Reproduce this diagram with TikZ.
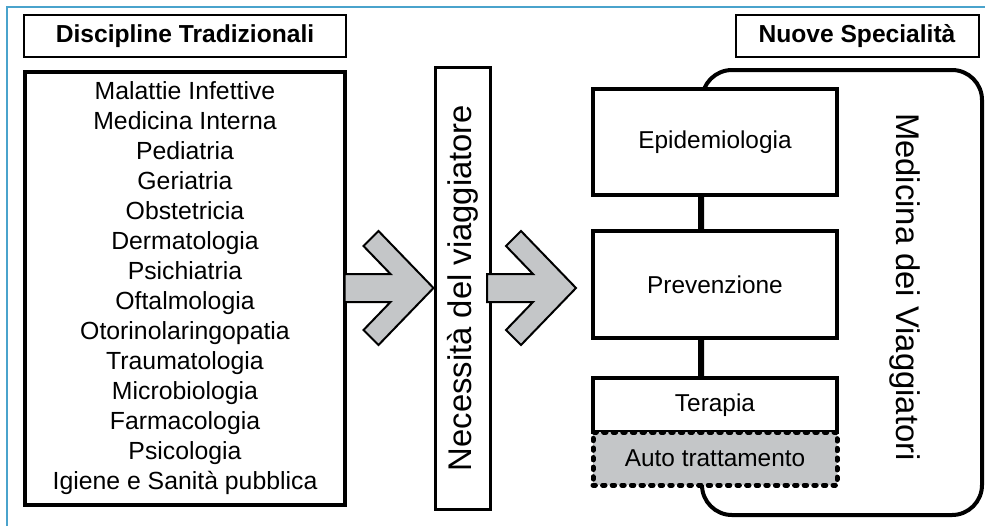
\documentclass[tikz,border=0pt]{standalone}
\usepackage{fontspec}
\setmainfont{Liberation Sans}
\usepackage{xcolor}
\usetikzlibrary{positioning}

\definecolor{framegrey}{RGB}{196,198,200}
\definecolor{pageblue}{RGB}{74,163,204}

\begin{document}
\begin{tikzpicture}[
			x=0.5pt, y=-0.5pt,
			header/.style={draw, line width=1pt, minimum height=21pt, font=\bfseries\fontsize{12.3}{14}\selectfont},
			listbox/.style={draw, line width=2pt, align=center, font=\fontsize{12.4}{15}\selectfont},
			field/.style={draw, line width=2pt, fill=white, minimum width=122pt, font=\fontsize{12.2}{14}\selectfont},
			selfcare/.style={field, fill=framegrey, line width=2.5pt, dash pattern=on 1.2pt off 3.6pt, line cap=round},
			vtext/.style={font=\fontsize{16.4}{18}\selectfont},
			bigarrow/.pic={
				\draw[line width=1pt, fill=framegrey, line join=miter]
					(0,0) -- (-55,-57) -- (-70,-42) -- (-43,-14) -- (-89,-14)
					-- (-89,14) -- (-43,14) -- (-70,42) -- (-55,57) -- cycle;
			}
			]
			\useasboundingbox (0,0) rectangle (985,526);
			\draw[pageblue, line width=1pt] (7,526) -- (7,7) -- (985,7);
			
			% Left side
			\node (trad_head) [header, minimum width=161pt] at (185,36) {Discipline Tradizionali};
			\node (disc) [listbox, minimum width=160pt, minimum height=216.5pt] at (185,288.5) {Malattie Infettive\\ Medicina Interna\\ Pediatria\\ Geriatria\\ Obstetricia\\ Dermatologia\\ Psichiatria\\ Oftalmologia\\ Otorinolaringopatia\\ Traumatologia\\ Microbiologia\\ Farmacologia\\ Psicologia\\ Igiene e Sanità pubblica};
			
			% Middle
			\node (need) [draw, line width=1.5pt, rotate=90, minimum width=221pt, minimum height=27.5pt, vtext] at (462.5,288) {Necessità del viaggiatore};
			
			% Right side
			\node (new_head) [header, minimum width=121.5pt] at (857,36) {Nuove Specialità};
			\node (frame) [draw, line width=2pt, rounded corners=15pt, minimum width=140pt, minimum height=222.5pt] at (842,292.5) {};
			\node (travel) [rotate=-90, vtext] at (905,287) {Medicina dei Viaggiatori};
			\node (epi) [field, minimum height=53pt] at (715,142) {Epidemiologia};
			\node (prev) [field, minimum height=53.5pt, below=16pt of epi] {Prevenzione};
			\node (ther) [field, minimum height=27pt, below=18pt of prev] {Terapia};
			\node (self) [selfcare, minimum height=26.5pt, below=-2.2pt of ther] {Auto trattamento};
			
			% Connections
			\draw [line width=2pt] (epi.south -| frame.west) -- (prev.north -| frame.west);
			\draw [line width=2pt] (prev.south -| frame.west) -- (ther.north -| frame.west);
			\coordinate (tip_two) at ([xshift=-7.5pt]prev.west);
			\pic at (need.north) {bigarrow};
			\pic at (tip_two |- need.north) {bigarrow};
			
		\end{tikzpicture}
\end{document}
